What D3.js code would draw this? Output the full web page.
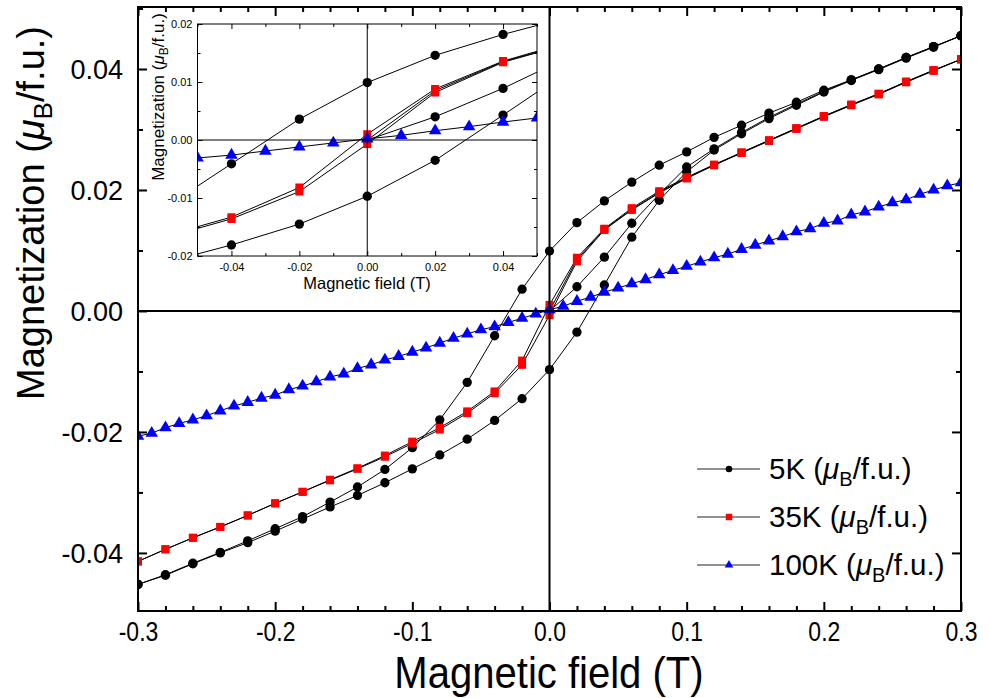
<!DOCTYPE html>
<html><head><meta charset="utf-8">
<script src="https://cdn.jsdelivr.net/npm/d3@7"></script>
<style>body{margin:0;background:#fff}svg{display:block}text{font-family:Arial,"Liberation Sans",sans-serif;fill:#000}</style>
</head><body>
<svg id="c" width="988" height="698"></svg>
<script>
// ---- data ----
const fieldDown = [0.30,0.28,0.26,0.24,0.22,0.20,0.18,0.16,0.14,0.12,0.10,0.08,0.06,0.04,0.02,0.00,-0.02,-0.04,-0.06,-0.08,-0.10,-0.12,-0.14,-0.16,-0.18,-0.20,-0.22,-0.24,-0.26,-0.28,-0.30];
const fieldUp = [-0.30,-0.28,-0.26,-0.24,-0.22,-0.20,-0.18,-0.16,-0.14,-0.12,-0.10,-0.08,-0.06,-0.04,-0.02,0.00,0.02,0.04,0.06,0.08,0.10,0.12,0.14,0.16,0.18,0.20,0.22,0.24,0.26,0.28,0.30];
const fieldVirgin = [0.00,0.02,0.04,0.06,0.08,0.10,0.12,0.14,0.16,0.18,0.20,0.22,0.24,0.26,0.28,0.30];
const m5Virgin = [0.0000,0.0040,0.0089,0.0145,0.0193,0.0238,0.0268,0.0295,0.0320,0.0342,0.0363,0.0382,0.0400,0.0419,0.0437,0.0455];
const m5Down = [0.0455,0.0437,0.0419,0.0400,0.0382,0.0365,0.0345,0.0327,0.0307,0.0287,0.0263,0.0241,0.0213,0.0182,0.0146,0.0099,0.0036,-0.0041,-0.0118,-0.0180,-0.0226,-0.0262,-0.0291,-0.0316,-0.0340,-0.0360,-0.0380,-0.0399,-0.0417,-0.0436,-0.0452];
const m5Up = [-0.0452,-0.0437,-0.0418,-0.0400,-0.0383,-0.0364,-0.0344,-0.0324,-0.0305,-0.0284,-0.0261,-0.0238,-0.0212,-0.0181,-0.0145,-0.0097,-0.0035,0.0043,0.0122,0.0183,0.0230,0.0266,0.0293,0.0318,0.0340,0.0362,0.0381,0.0399,0.0418,0.0436,0.0455];
const m35Virgin = [0.0000,0.0085,0.0135,0.0168,0.0196,0.0220,0.0241,0.0262,0.0282,0.0302,0.0322,0.0341,0.0359,0.0379,0.0398,0.0416];
const m35Down = [0.0416,0.0398,0.0379,0.0359,0.0341,0.0322,0.0302,0.0282,0.0262,0.0242,0.0221,0.0198,0.0170,0.0136,0.0088,0.0010,-0.0082,-0.0133,-0.0166,-0.0193,-0.0216,-0.0239,-0.0260,-0.0279,-0.0299,-0.0318,-0.0338,-0.0357,-0.0375,-0.0394,-0.0414];
const m35Up = [-0.0414,-0.0394,-0.0375,-0.0357,-0.0338,-0.0318,-0.0299,-0.0280,-0.0261,-0.0241,-0.0219,-0.0196,-0.0169,-0.0136,-0.0089,-0.0007,0.0082,0.0134,0.0167,0.0195,0.0219,0.0241,0.0261,0.0281,0.0301,0.0321,0.0340,0.0358,0.0378,0.0397,0.0416];
const field100 = [-0.30,-0.29,-0.28,-0.27,-0.26,-0.25,-0.24,-0.23,-0.22,-0.21,-0.20,-0.19,-0.18,-0.17,-0.16,-0.15,-0.14,-0.13,-0.12,-0.11,-0.10,-0.09,-0.08,-0.07,-0.06,-0.05,-0.04,-0.03,-0.02,-0.01,0.00,0.01,0.02,0.03,0.04,0.05,0.06,0.07,0.08,0.09,0.10,0.11,0.12,0.13,0.14,0.15,0.16,0.17,0.18,0.19,0.20,0.21,0.22,0.23,0.24,0.25,0.26,0.27,0.28,0.29,0.30];
const m100 = [-0.0207,-0.0202,-0.0193,-0.0186,-0.0180,-0.0173,-0.0165,-0.0157,-0.0151,-0.0144,-0.0139,-0.0130,-0.0124,-0.0117,-0.0109,-0.0104,-0.0095,-0.0089,-0.0081,-0.0075,-0.0068,-0.0061,-0.0053,-0.0045,-0.0038,-0.0031,-0.0026,-0.0019,-0.0012,-0.0005,0.0002,0.0008,0.0016,0.0023,0.0031,0.0038,0.0045,0.0052,0.0060,0.0067,0.0074,0.0081,0.0088,0.0094,0.0102,0.0109,0.0116,0.0123,0.0131,0.0136,0.0145,0.0149,0.0159,0.0164,0.0172,0.0179,0.0184,0.0193,0.0200,0.0207,0.0212];
const seriesNames = ["5K", "35K", "100K"];
const xTicksMain = [-0.3,-0.2,-0.1,0.0,0.1,0.2,0.3];
const yTicksMain = [-0.04,-0.02,0.00,0.02,0.04];
const xTicksInset = [-0.04,-0.02,0.00,0.02,0.04];
const yTicksInset = [-0.02,-0.01,0.00,0.01,0.02];

const zip = (xs, ys) => xs.map((x, i) => [x, ys[i]]);
const series = [
  {name: seriesNames[0], color: "#000", sym: d3.symbolCircle, size: 68, lsize: 34,
   branches: [zip(fieldVirgin, m5Virgin), zip(fieldDown, m5Down), zip(fieldUp, m5Up)]},
  {name: seriesNames[1], color: "#ff0000", sym: d3.symbolSquare, size: 64, lsize: 42,
   branches: [zip(fieldVirgin, m35Virgin), zip(fieldDown, m35Down), zip(fieldUp, m35Up)]},
  {name: seriesNames[2], color: "#0000ff", sym: d3.symbolTriangle, size: 68, lsize: 32,
   branches: [zip(field100, m100)]}
];

const svg = d3.select("#c");
const fontMain = 'Arial,"Liberation Sans",sans-serif';
const hy = f => (d => f(d).replace("\u2212", "-"));

function panel(g, x, y, opt) {
  const [x0, x1] = x.range(), [y0, y1] = y.range();
  const id = opt.id;
  g.append("rect").attr("x", x0).attr("y", y1).attr("width", x1 - x0).attr("height", y0 - y1).attr("fill", "#fff");
  g.append("clipPath").attr("id", id).append("rect")
    .attr("x", x0).attr("y", y1).attr("width", x1 - x0).attr("height", y0 - y1);
  const data = g.append("g").attr("clip-path", `url(#${id})`);
  const line = d3.line().x(d => x(d[0])).y(d => y(d[1]));
  series.forEach(s => {
    const sg = data.append("g");
    s.branches.forEach(b => sg.append("path").attr("d", line(b)).attr("fill", "none")
      .attr("stroke", "#000").attr("stroke-width", opt.lw));
    s.branches.forEach(b => sg.selectAll(null).data(b).enter().append("path")
      .attr("transform", d => `translate(${x(d[0])},${y(d[1])})`)
      .attr("d", d3.symbol().type(s.sym).size(s.size * opt.ms))
      .attr("fill", s.color));
  });
  g.append("line").attr("x1", x0).attr("x2", x1).attr("y1", y(0)).attr("y2", y(0)).attr("stroke", "#000").attr("stroke-width", opt.zw);
  g.append("line").attr("x1", x(0)).attr("x2", x(0)).attr("y1", y0).attr("y2", y1).attr("stroke", "#000").attr("stroke-width", opt.zw);
  const mk = (axis, tr, sc, ticks, len, fmt) => {
    const a = g.append("g").attr("transform", tr).call(axis(sc).tickValues(ticks).tickSize(-len).tickSizeOuter(0)
      .tickFormat(fmt || (() => "")));
    a.select(".domain").remove();
    a.selectAll(".tick line").attr("stroke", "#000").attr("stroke-width", opt.tw);
    return a;
  };
  const bx = mk(d3.axisBottom, `translate(0,${y0})`, x, opt.xt, opt.major, hy(opt.xfmt));
  mk(d3.axisBottom, `translate(0,${y0})`, x, opt.xm, opt.minor);
  mk(d3.axisTop, `translate(0,${y1})`, x, opt.xt, opt.major).selectAll(".tick line").attr("y2", opt.major);
  mk(d3.axisTop, `translate(0,${y1})`, x, opt.xm, opt.minor).selectAll(".tick line").attr("y2", opt.minor);
  const ly = mk(d3.axisLeft, `translate(${x0},0)`, y, opt.yt, opt.major, hy(opt.yfmt));
  mk(d3.axisLeft, `translate(${x0},0)`, y, opt.ym, opt.minor);
  mk(d3.axisRight, `translate(${x1},0)`, y, opt.yt, opt.major).selectAll(".tick line").attr("x2", -opt.major);
  mk(d3.axisRight, `translate(${x1},0)`, y, opt.ym, opt.minor).selectAll(".tick line").attr("x2", -opt.minor);
  bx.selectAll(".tick text").attr("font-size", opt.xfs).attr("font-family", fontMain).attr("y", opt.xty).attr("dy", 0)
    .attr("transform", opt.xsx ? `scale(${opt.xsx},1)` : null);
  ly.selectAll(".tick text").attr("font-size", opt.yfs).attr("font-family", fontMain).attr("x", opt.ytx).attr("dy", "0.36em");
  g.append("rect").attr("x", x0).attr("y", y1).attr("width", x1 - x0).attr("height", y0 - y1)
    .attr("fill", "none").attr("stroke", "#000").attr("stroke-width", opt.fw);
  return {bx, ly};
}

// main panel
const xMain = d3.scaleLinear().domain([-0.3, 0.3]).range([138, 961]);
const yMain = d3.scaleLinear().domain([-0.0496, 0.05025]).range([611, 7]);
panel(svg.append("g"), xMain, yMain, {
  id: "clipMain", lw: 1, ms: 1, zw: 2, tw: 2, fw: 2, major: 9, minor: 5,
  xt: xTicksMain, xm: [-0.28,-0.26,-0.24,-0.22,-0.18,-0.16,-0.14,-0.12,-0.08,-0.06,-0.04,-0.02,0.02,0.04,0.06,0.08,0.12,0.14,0.16,0.18,0.22,0.24,0.26,0.28],
  yt: yTicksMain, ym: [-0.03,-0.01,0.01,0.03,0.05],
  xfmt: d3.format(".1f"), yfmt: d3.format(".2f"), xfs: 28, xty: 30, xsx: 0.82, yfs: 27, ytx: -15
});

// main titles
svg.append("text").attr("x", 549).attr("y", 688).attr("text-anchor", "middle").attr("font-size", 45)
  .attr("transform", "translate(549,0) scale(0.89,1) translate(-549,0)")
  .text("Magnetic field (T)");
const yt = svg.append("text").attr("transform", "translate(44,213) rotate(-90)").attr("text-anchor", "middle").attr("font-size", 38);
yt.append("tspan").text("Magnetization (");
yt.append("tspan").attr("font-style", "italic").text("\u03bc");
yt.append("tspan").attr("font-size", 26).attr("dy", 8).text("B");
yt.append("tspan").attr("dy", -8).text("/f.u.)");

// legend
const leg = svg.append("g");
series.forEach((s, i) => {
  const yy = 469 + i * 48;
  leg.append("line").attr("x1", 697).attr("x2", 760).attr("y1", yy).attr("y2", yy).attr("stroke", "#222").attr("stroke-width", 1);
  leg.append("path").attr("transform", `translate(729,${yy})`).attr("d", d3.symbol().type(s.sym).size(s.lsize)).attr("fill", s.color);
  const t = leg.append("text").attr("x", 769).attr("y", yy + 10).attr("font-size", 29.5);
  t.append("tspan").text(s.name + " (");
  t.append("tspan").attr("font-style", "italic").text("\u03bc");
  t.append("tspan").attr("font-size", 20).attr("dy", 7).text("B");
  t.append("tspan").attr("dy", -7).text("/f.u.)");
});

// inset
const xIn = d3.scaleLinear().domain([-0.05, 0.05]).range([197.5, 537]);
const yIn = d3.scaleLinear().domain([-0.02, 0.02]).range([256, 24]);
const gIn = svg.append("g");
panel(gIn, xIn, yIn, {
  id: "clipIn", lw: 1, ms: 1, zw: 1, tw: 1, fw: 1, major: 5, minor: 3,
  xt: xTicksInset, xm: [-0.05,-0.03,-0.01,0.01,0.03,0.05],
  yt: yTicksInset, ym: [-0.015,-0.005,0.005,0.015],
  xfmt: d3.format(".2f"), yfmt: d3.format(".2f"), xfs: 11, xty: 15, yfs: 11, ytx: -5
});
gIn.append("text").attr("x", 367).attr("y", 289).attr("text-anchor", "middle").attr("font-size", 16.5).text("Magnetic field (T)");
const iyt = gIn.append("text").attr("transform", "translate(164,97) rotate(-90)").attr("text-anchor", "middle").attr("font-size", 17);
iyt.append("tspan").text("Magnetization (");
iyt.append("tspan").attr("font-style", "italic").text("\u03bc");
iyt.append("tspan").attr("font-size", 12).attr("dy", 4).text("B");
iyt.append("tspan").attr("dy", -4).text("/f.u.)");
</script>
</body></html>
